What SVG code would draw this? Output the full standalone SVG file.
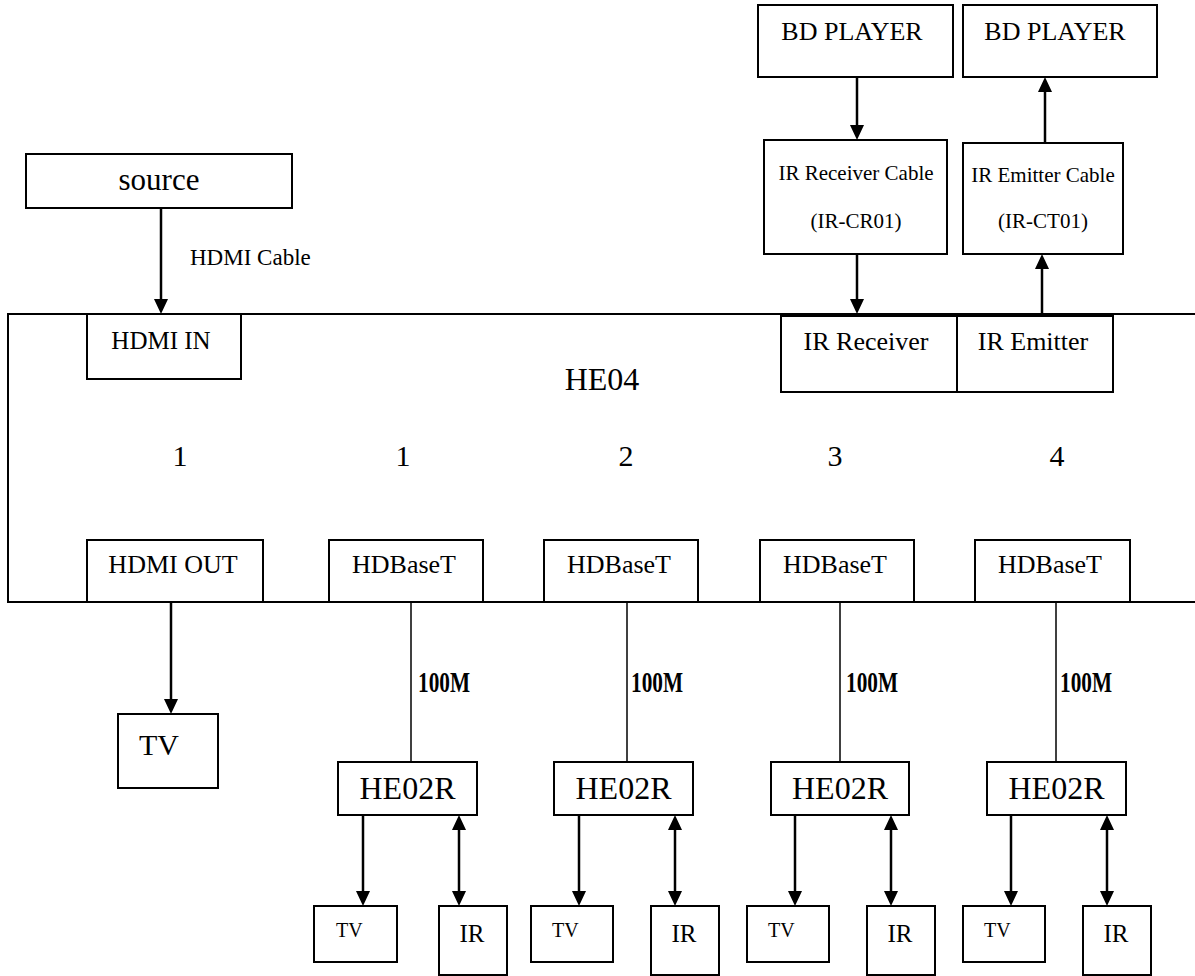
<svg xmlns="http://www.w3.org/2000/svg" width="1195" height="976" viewBox="0 0 1195 976">
<style>
.box{fill:#fff;stroke:#000;stroke-width:2}
.frame{fill:none;stroke:#000;stroke-width:2}
.t{font-family:"Liberation Serif","Times New Roman",serif;fill:#000}
.m{text-anchor:middle}
.arr{stroke:#000;stroke-width:2.5;fill:none;marker-end:url(#ah)}
.dbl{stroke:#000;stroke-width:2.5;fill:none;marker-end:url(#ah);marker-start:url(#ah)}
.thin{stroke:#000;stroke-width:1.5;fill:none}
.bw{font-family:"Liberation Serif","Times New Roman",serif;font-weight:bold;font-size:29px;fill:#000}
</style>
<defs>
<marker id="ah" markerUnits="userSpaceOnUse" viewBox="0 0 15 14" refX="5" refY="7" markerWidth="15" markerHeight="14" orient="auto-start-reverse">
<path d="M0,0 L15,7 L0,14 z" fill="#000"/>
</marker>
</defs>

<g id="he04">
<path class="frame" d="M1196,314 H8 V602 H1196"/>
<text class="t m" x="602" y="390" font-size="32">HE04</text>
<text class="t m" x="180" y="466" font-size="30">1</text>
<text class="t m" x="403" y="466" font-size="30">1</text>
<text class="t m" x="626" y="466" font-size="30">2</text>
<text class="t m" x="835" y="466" font-size="30">3</text>
<text class="t m" x="1057" y="466" font-size="30">4</text>
</g>

<g id="source">
<rect class="box" x="26" y="154" width="266" height="54"/>
<text class="t m" x="159" y="190" font-size="31">source</text>
</g>

<g id="hdmi-in">
<rect class="box" x="87" y="314" width="154" height="65"/>
<text class="t m" x="161" y="349" font-size="25">HDMI IN</text>
</g>

<g id="bd1">
<rect class="box" x="758" y="5" width="195" height="72"/>
<text class="t m" x="852" y="40" font-size="26">BD PLAYER</text>
</g>
<g id="bd2">
<rect class="box" x="963" y="5" width="194" height="72"/>
<text class="t m" x="1055" y="40" font-size="26">BD PLAYER</text>
</g>

<g id="ir-receiver-cable">
<rect class="box" x="764" y="140" width="183" height="114"/>
<text class="t m" x="856" y="180" font-size="21">IR Receiver Cable</text>
<text class="t m" x="856" y="228" font-size="21">(IR-CR01)</text>
</g>
<g id="ir-emitter-cable">
<rect class="box" x="963" y="143" width="160" height="111"/>
<text class="t m" x="1043" y="182" font-size="21">IR Emitter Cable</text>
<text class="t m" x="1043" y="228" font-size="21">(IR-CT01)</text>
</g>

<g id="ir-receiver">
<rect class="box" x="781" y="316" width="176" height="76"/>
<text class="t m" x="866" y="350" font-size="26">IR Receiver</text>
</g>
<g id="ir-emitter">
<rect class="box" x="957" y="316" width="156" height="76"/>
<text class="t m" x="1033" y="350" font-size="26">IR Emitter</text>
</g>

<g id="hdmi-out">
<rect class="box" x="87" y="540" width="176" height="62"/>
<text class="t m" x="173" y="573" font-size="26">HDMI OUT</text>
</g>
<g id="hdbaset1">
<rect class="box" x="329" y="540" width="154" height="62"/>
<text class="t m" x="404" y="573" font-size="26">HDBaseT</text>
</g>
<g id="hdbaset2">
<rect class="box" x="544" y="540" width="154" height="62"/>
<text class="t m" x="619" y="573" font-size="26">HDBaseT</text>
</g>
<g id="hdbaset3">
<rect class="box" x="760" y="540" width="154" height="62"/>
<text class="t m" x="835" y="573" font-size="26">HDBaseT</text>
</g>
<g id="hdbaset4">
<rect class="box" x="975" y="540" width="155" height="62"/>
<text class="t m" x="1050" y="573" font-size="26">HDBaseT</text>
</g>

<g id="tv-main">
<rect class="box" x="118" y="714" width="100" height="74"/>
<text class="t" x="139" y="755" font-size="30">TV</text>
</g>

<g id="he02r1">
<rect class="box" x="338" y="762" width="139" height="53"/>
<text class="t m" x="407.5" y="799" font-size="32">HE02R</text>
</g>
<g id="he02r2">
<rect class="box" x="554" y="762" width="139" height="53"/>
<text class="t m" x="623.5" y="799" font-size="32">HE02R</text>
</g>
<g id="he02r3">
<rect class="box" x="771" y="762" width="138" height="53"/>
<text class="t m" x="840" y="799" font-size="32">HE02R</text>
</g>
<g id="he02r4">
<rect class="box" x="987" y="762" width="139" height="53"/>
<text class="t m" x="1056.5" y="799" font-size="32">HE02R</text>
</g>

<g id="tv1"><rect class="box" x="314" y="906" width="83" height="56"/><text class="t" x="336" y="937" font-size="20">TV</text></g>
<g id="ir1"><rect class="box" x="439" y="906" width="68" height="69"/><text class="t m" x="472" y="942" font-size="25">IR</text></g>
<g id="tv2"><rect class="box" x="531" y="906" width="82" height="56"/><text class="t" x="552" y="937" font-size="20">TV</text></g>
<g id="ir2"><rect class="box" x="651" y="906" width="68" height="69"/><text class="t m" x="684" y="942" font-size="25">IR</text></g>
<g id="tv3"><rect class="box" x="747" y="906" width="82" height="56"/><text class="t" x="768" y="937" font-size="20">TV</text></g>
<g id="ir3"><rect class="box" x="867" y="906" width="68" height="69"/><text class="t m" x="900" y="942" font-size="25">IR</text></g>
<g id="tv4"><rect class="box" x="963" y="906" width="82" height="56"/><text class="t" x="984" y="937" font-size="20">TV</text></g>
<g id="ir4"><rect class="box" x="1083" y="906" width="68" height="69"/><text class="t m" x="1116" y="942" font-size="25">IR</text></g>

<g id="connectors">
<line class="arr" x1="161" y1="208" x2="161" y2="304"/>
<text class="t" x="190" y="265" font-size="23">HDMI Cable</text>
<line class="arr" x1="857" y1="77" x2="857" y2="130"/>
<line class="arr" x1="857" y1="254" x2="857" y2="304"/>
<line class="arr" x1="1042" y1="314" x2="1042" y2="264"/>
<line class="arr" x1="1045" y1="143" x2="1045" y2="87"/>
<line class="arr" x1="171" y1="602" x2="171" y2="704"/>

<line class="thin" x1="411" y1="602" x2="411" y2="762"/>
<line class="thin" x1="627" y1="602" x2="627" y2="762"/>
<line class="thin" x1="840" y1="602" x2="840" y2="762"/>
<line class="thin" x1="1056" y1="602" x2="1056" y2="762"/>
<text class="bw" x="418" y="692" textLength="52" lengthAdjust="spacingAndGlyphs">100M</text>
<text class="bw" x="631" y="692" textLength="52" lengthAdjust="spacingAndGlyphs">100M</text>
<text class="bw" x="846" y="692" textLength="52" lengthAdjust="spacingAndGlyphs">100M</text>
<text class="bw" x="1060" y="692" textLength="52" lengthAdjust="spacingAndGlyphs">100M</text>

<line class="arr" x1="363" y1="815" x2="363" y2="896"/>
<line class="arr" x1="579" y1="815" x2="579" y2="896"/>
<line class="arr" x1="795" y1="815" x2="795" y2="896"/>
<line class="arr" x1="1011" y1="815" x2="1011" y2="896"/>
<line class="dbl" x1="459" y1="825" x2="459" y2="896"/>
<line class="dbl" x1="675" y1="825" x2="675" y2="896"/>
<line class="dbl" x1="891" y1="825" x2="891" y2="896"/>
<line class="dbl" x1="1107" y1="825" x2="1107" y2="896"/>
</g>
</svg>
